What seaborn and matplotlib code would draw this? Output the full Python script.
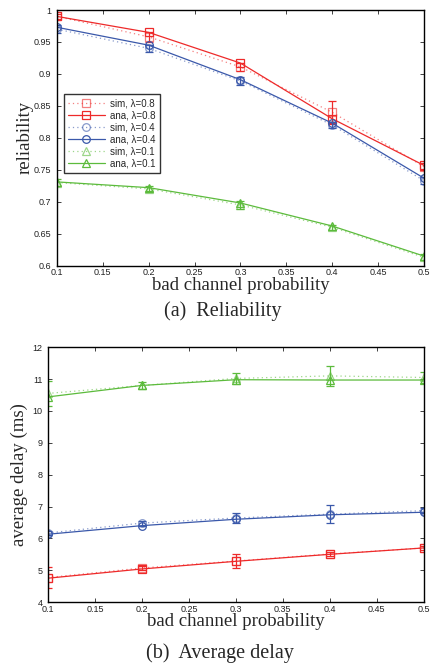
import matplotlib
matplotlib.use("Agg")
import matplotlib.pyplot as plt
import numpy as np
import pandas as pd
import seaborn as sns

# x values shared by both panels
p_bad = [0.1, 0.2, 0.3, 0.4, 0.5]
lambdas = ["0.8", "0.4", "0.1"]

# (a) reliability
rel_sim = {
    "0.8": [0.990, 0.958, 0.911, 0.840, 0.755],
    "0.4": [0.970, 0.940, 0.889, 0.820, 0.733],
    "0.1": [0.730, 0.720, 0.695, 0.660, 0.613],
}
rel_err = {
    "0.8": [0.004, 0.008, 0.006, 0.018, 0.005],
    "0.4": [0.006, 0.005, 0.006, 0.004, 0.005],
    "0.1": [0.005, 0.004, 0.006, 0.004, 0.005],
}
rel_ana = {
    "0.8": [0.990, 0.965, 0.917, 0.830, 0.757],
    "0.4": [0.973, 0.945, 0.891, 0.823, 0.737],
    "0.1": [0.731, 0.722, 0.698, 0.662, 0.615],
}

# (b) average delay
dly_sim = {
    "0.8": [4.77, 5.07, 5.29, 5.51, 5.70],
    "0.4": [6.17, 6.48, 6.64, 6.76, 6.87],
    "0.1": [10.55, 10.80, 11.02, 11.10, 11.05],
}
dly_err = {
    "0.8": [0.32, 0.06, 0.21, 0.06, 0.06],
    "0.4": [0.06, 0.08, 0.17, 0.28, 0.08],
    "0.1": [0.40, 0.10, 0.17, 0.32, 0.17],
}
dly_ana = {
    "0.8": [4.75, 5.04, 5.28, 5.50, 5.70],
    "0.4": [6.13, 6.40, 6.60, 6.74, 6.82],
    "0.1": [10.44, 10.80, 10.98, 10.97, 10.97],
}

COLORS = {"0.8": "#ee2a2a", "0.4": "#3a58aa", "0.1": "#5cbb3c"}
MARKERS = {"0.8": "s", "0.4": "o", "0.1": "^"}

sns.set_style("ticks")
plt.rcParams["font.family"] = ["Liberation Sans", "DejaVu Sans"]

fig = plt.figure(figsize=(4.32, 6.69), dpi=100)
ax1 = fig.add_axes([0.132, 0.603, 0.849, 0.382])
ax2 = fig.add_axes([0.111, 0.100, 0.870, 0.381])


def draw_panel(ax, sim, err, ana):
    for lam in lambdas:
        c = COLORS[lam]
        m = MARKERS[lam]
        df_sim = pd.DataFrame({"x": p_bad, "y": sim[lam]})
        df_ana = pd.DataFrame({"x": p_bad, "y": ana[lam]})
        sns.lineplot(data=df_sim, x="x", y="y", ax=ax, color=c, alpha=0.6,
                     linestyle=(0, (1, 2.5)), linewidth=0.9, marker=m,
                     markersize=5.5, markerfacecolor="none", markeredgecolor=c,
                     markeredgewidth=0.9, label=f"sim, λ={lam}")
        ax.errorbar(p_bad, sim[lam], yerr=err[lam], fmt="none", ecolor=c,
                    elinewidth=0.9, capsize=3, capthick=0.9)
        sns.lineplot(data=df_ana, x="x", y="y", ax=ax, color=c,
                     linewidth=0.9, marker=m, markersize=5.5,
                     markerfacecolor="none", markeredgecolor=c,
                     markeredgewidth=0.9, label=f"ana, λ={lam}")


draw_panel(ax1, rel_sim, rel_err, rel_ana)
draw_panel(ax2, dly_sim, dly_err, dly_ana)

xt = np.arange(0.1, 0.501, 0.05)
xlabels = ["0.1", "0.15", "0.2", "0.25", "0.3", "0.35", "0.4", "0.45", "0.5"]
for ax in (ax1, ax2):
    ax.set_xlim(0.1, 0.5)
    ax.set_xticks(xt)
    ax.set_xticklabels(xlabels)
    ax.tick_params(axis="both", which="both", direction="in", length=3,
                   width=0.6, labelsize=6.5, top=True, right=True,
                   colors="#222222")
    ax.tick_params(axis="x", pad=2)
    ax.tick_params(axis="y", pad=4)
    for sp in ax.spines.values():
        sp.set_linewidth(1.0)
        sp.set_color("black")
    ax.set_xlabel("bad channel probability", family="Liberation Serif",
                  fontsize=13.5, labelpad=-0.5)

ax1.set_ylim(0.6, 1.0)
yt1 = np.arange(0.6, 1.001, 0.05)
ax1.set_yticks(yt1)
ax1.set_yticklabels(["0.6", "0.65", "0.7", "0.75", "0.8", "0.85", "0.9",
                     "0.95", "1"])
ax1.set_ylabel("reliability", family="Liberation Serif", fontsize=13.5,
               labelpad=0)

ax2.set_ylim(4, 12)
ax2.set_yticks(range(4, 13))
ax2.set_ylabel("average delay (ms)", family="Liberation Serif", fontsize=13.5,
               labelpad=3)

ax2.get_legend().remove()
leg = ax1.legend(loc="upper left", bbox_to_anchor=(0.018, 0.67),
                 fontsize=7, frameon=True, fancybox=False,
                 edgecolor="black", handlelength=3.8, handletextpad=0.5,
                 labelspacing=0.2, borderpad=0.45, borderaxespad=0)
leg.get_frame().set_linewidth(1.0)

fig.text(0.516, 0.535, "(a)  Reliability", ha="center", va="center",
         family="Liberation Serif", fontsize=14.5)
fig.text(0.51, 0.024, "(b)  Average delay", ha="center", va="center",
         family="Liberation Serif", fontsize=14.5)

fig.savefig("out.png", dpi=100)
